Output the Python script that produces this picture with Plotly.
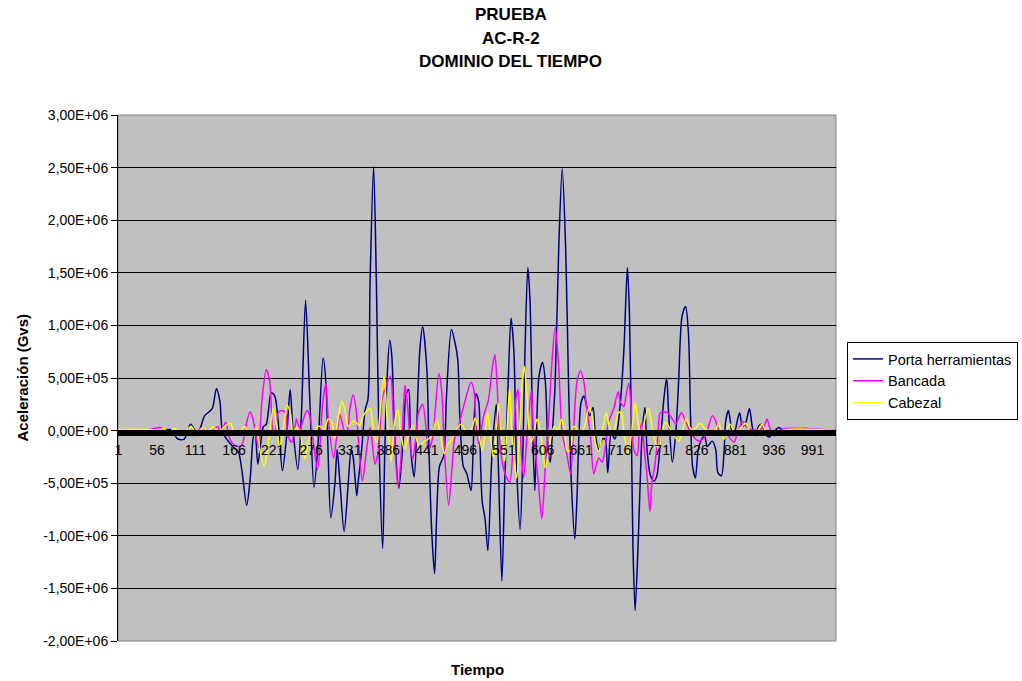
import plotly.graph_objects as go

SCALE = 1e6  # values below are in millions

porta_x = [1, 30, 60, 75, 86, 95, 104, 114, 124, 134, 136, 141, 146, 150, 164, 172, 177, 184, 189, 193, 196, 200, 208, 212, 219, 224, 229, 235, 241, 246, 250, 257, 262, 268, 274, 280, 286, 293, 297, 300, 304, 310, 313, 317, 323, 329, 333, 336, 341, 343, 348, 353, 357, 360, 365, 369, 373, 378, 381, 384, 388, 391, 395, 401, 408, 411, 415, 418, 423, 427, 431, 435, 441, 444, 448, 452, 455, 459, 465, 469, 476, 481, 485, 488, 493, 498, 504, 507, 511, 515, 517, 520, 524, 528, 533, 536, 540, 543, 548, 552, 557, 561, 565, 569, 574, 578, 581, 585, 588, 592, 595, 598, 601, 606, 610, 614, 617, 620, 624, 629, 634, 639, 643, 647, 652, 655, 658, 661, 665, 669, 673, 678, 681, 686, 691, 695, 699, 704, 709, 712, 717, 722, 727, 730, 733, 735, 738, 742, 746, 748, 752, 755, 760, 765, 769, 774, 779, 783, 786, 791, 796, 800, 805, 810, 814, 817, 820, 824, 828, 833, 837, 841, 848, 853, 856, 861, 865, 867, 871, 874, 877, 881, 887, 891, 896, 901, 905, 909, 914, 918, 922, 926, 930, 936, 943, 950, 981, 995, 1024]
porta_v = [0.0, 0.0, -0.01, 0.01, -0.08, -0.08, 0.06, -0.03, 0.14, 0.20, 0.23, 0.40, 0.27, -0.02, -0.15, -0.20, -0.37, -0.71, -0.46, -0.08, 0.01, -0.32, 0.04, 0.06, 0.36, 0.33, 0.08, -0.38, -0.05, 0.39, 0.01, -0.37, 0.14, 1.24, 0.30, -0.54, -0.11, 0.69, 0.46, -0.18, -0.83, -0.49, -0.18, -0.49, -0.96, -0.49, -0.18, -0.26, -0.62, -0.49, -0.18, 0.20, 0.30, 1.41, 2.51, 1.41, -0.18, -1.12, -0.18, 0.46, 0.86, 0.71, -0.02, -0.55, -0.02, 0.33, 0.39, -0.18, -0.44, 0.14, 0.77, 0.99, 0.58, -0.18, -0.97, -1.36, -0.81, -0.34, -0.24, 0.33, 0.96, 0.84, 0.68, 0.14, -0.34, -0.41, -0.57, -0.18, 0.35, 0.27, -0.18, -0.68, -0.84, -1.14, -0.34, -0.02, 0.25, -0.34, -1.43, -0.49, 0.46, 1.07, 0.77, -0.34, -0.94, -0.18, 0.77, 1.55, 1.25, -0.02, -0.57, 0.14, 0.52, 0.65, 0.46, -0.18, -0.30, -0.02, 0.46, 1.72, 2.49, 1.72, 0.46, -0.49, -1.03, -0.65, -0.02, 0.27, 0.33, 0.23, 0.14, 0.22, -0.02, -0.18, -0.08, -0.08, -0.40, -0.02, -0.08, -0.02, 0.27, 0.77, 1.55, 1.09, -0.18, -1.13, -1.71, -1.13, -0.34, -0.02, 0.22, -0.18, -0.43, -0.48, -0.43, -0.11, 0.30, 0.50, 0.14, -0.30, -0.02, 0.46, 1.09, 1.18, 0.93, 0.14, -0.34, -0.45, -0.18, -0.08, -0.05, -0.15, -0.10, -0.18, -0.40, -0.43, -0.18, 0.08, 0.19, 0.08, -0.05, 0.01, 0.17, 0.04, 0.08, 0.21, 0.04, -0.05, 0.04, 0.06, 0.0, -0.05, -0.06, -0.01, 0.03, 0.0, 0.02, 0.0, 0.0]

bancada_x = [1, 40, 60, 81, 96, 108, 120, 131, 143, 147, 154, 160, 165, 172, 177, 184, 189, 193, 198, 201, 206, 212, 217, 222, 225, 229, 234, 239, 243, 248, 252, 255, 260, 265, 270, 274, 279, 285, 289, 292, 297, 300, 308, 312, 317, 320, 324, 328, 331, 336, 340, 344, 349, 355, 360, 363, 367, 372, 377, 381, 389, 393, 397, 400, 404, 408, 410, 414, 417, 421, 425, 429, 435, 439, 443, 449, 453, 458, 462, 466, 472, 477, 481, 486, 495, 504, 508, 511, 515, 522, 529, 534, 538, 541, 546, 552, 559, 565, 568, 571, 574, 579, 584, 587, 590, 593, 600, 605, 610, 615, 619, 624, 629, 634, 641, 646, 650, 655, 660, 665, 669, 674, 679, 686, 691, 695, 700, 707, 714, 717, 722, 725, 729, 733, 736, 741, 744, 748, 751, 755, 759, 762, 766, 771, 774, 784, 793, 796, 804, 811, 819, 829, 838, 848, 853, 857, 867, 879, 884, 891, 896, 903, 915, 922, 926, 931, 937, 943, 953, 981, 1024]
bancada_v = [0.0, 0.0, 0.03, -0.04, 0.0, -0.05, 0.03, -0.02, 0.04, -0.04, 0.08, -0.08, -0.13, -0.15, -0.14, 0.08, 0.18, 0.11, -0.08, -0.16, 0.30, 0.58, 0.46, -0.02, 0.0, 0.17, 0.19, 0.17, -0.05, -0.11, -0.02, 0.11, 0.01, 0.11, 0.19, 0.14, -0.11, -0.37, -0.11, 0.23, 0.45, 0.14, -0.26, -0.08, 0.15, 0.08, -0.01, 0.01, 0.20, 0.34, 0.20, -0.15, -0.48, -0.18, 0.03, -0.11, -0.32, -0.18, 0.30, 0.39, 0.52, 0.14, -0.34, -0.53, -0.27, 0.27, 0.43, 0.20, -0.11, -0.27, -0.08, 0.17, 0.25, 0.08, -0.18, -0.08, 0.20, 0.54, 0.39, -0.18, -0.71, -0.34, -0.05, 0.04, 0.27, 0.46, 0.39, 0.08, -0.12, 0.14, 0.30, 0.58, 0.72, 0.46, -0.18, -0.40, -0.49, -0.02, 0.30, 0.39, -0.02, -0.45, -0.02, 0.20, 0.38, -0.02, -0.49, -0.84, -0.34, 0.14, 0.61, 0.98, 0.61, -0.02, -0.24, -0.41, -0.02, 0.46, 0.57, 0.46, 0.20, -0.02, -0.41, -0.26, -0.30, -0.18, 0.08, 0.20, 0.37, 0.27, 0.23, 0.33, 0.45, 0.14, -0.18, -0.24, -0.02, 0.07, -0.18, -0.43, -0.77, -0.49, -0.34, -0.02, 0.17, 0.17, 0.09, 0.06, 0.17, 0.07, -0.04, -0.10, -0.05, 0.14, 0.09, 0.01, -0.02, -0.11, -0.02, 0.09, 0.04, 0.01, 0.01, 0.04, 0.11, 0.01, -0.05, 0.0, 0.02, 0.02, 0.0]

cabezal_x = [1, 48, 58, 65, 72, 81, 89, 96, 105, 112, 122, 129, 136, 143, 153, 161, 167, 172, 177, 181, 186, 192, 198, 203, 209, 215, 222, 227, 231, 236, 242, 247, 250, 255, 260, 262, 267, 272, 276, 280, 284, 289, 295, 300, 305, 310, 315, 320, 324, 329, 336, 341, 345, 350, 360, 365, 370, 373, 380, 384, 390, 395, 400, 403, 409, 415, 421, 425, 430, 436, 443, 448, 455, 460, 466, 471, 474, 481, 489, 495, 500, 506, 510, 515, 520, 524, 528, 531, 536, 540, 543, 547, 552, 555, 559, 562, 569, 573, 577, 580, 584, 589, 592, 598, 603, 610, 615, 619, 623, 628, 633, 638, 641, 646, 650, 655, 660, 666, 672, 677, 681, 686, 691, 697, 701, 706, 710, 714, 718, 722, 728, 733, 738, 742, 747, 752, 757, 762, 767, 772, 776, 781, 786, 791, 800, 805, 811, 816, 820, 825, 830, 836, 842, 853, 857, 861, 865, 869, 874, 880, 886, 896, 901, 907, 914, 919, 924, 931, 941, 953, 1024]
cabezal_v = [0.01, 0.01, -0.01, 0.02, -0.02, 0.02, -0.02, -0.01, 0.04, -0.03, 0.03, -0.01, 0.04, -0.02, 0.04, 0.07, -0.04, -0.03, 0.01, 0.04, -0.02, -0.05, 0.04, -0.19, -0.34, -0.11, 0.21, 0.04, -0.16, 0.01, 0.24, 0.14, -0.02, 0.03, 0.0, -0.08, -0.27, -0.11, -0.03, -0.05, 0.03, 0.04, 0.01, 0.11, 0.08, -0.07, 0.14, 0.28, 0.20, 0.04, 0.09, 0.07, 0.05, 0.14, 0.21, -0.02, -0.11, 0.08, 0.52, 0.14, -0.29, 0.08, 0.20, 0.01, -0.18, -0.05, 0.05, -0.05, -0.15, -0.11, -0.08, -0.05, 0.11, -0.02, -0.22, -0.13, -0.11, -0.02, 0.06, 0.01, -0.05, 0.04, 0.12, -0.02, -0.19, -0.02, 0.17, -0.02, -0.26, -0.02, 0.26, -0.02, -0.29, -0.02, 0.40, -0.02, -0.45, -0.02, 0.46, 0.61, 0.30, -0.11, -0.08, 0.11, -0.02, -0.35, -0.18, -0.02, 0.04, 0.0, 0.11, -0.05, -0.19, -0.19, 0.04, 0.02, -0.02, 0.04, 0.22, 0.14, -0.11, -0.20, -0.02, 0.17, 0.04, -0.03, 0.04, 0.17, 0.17, -0.02, -0.22, -0.02, 0.26, 0.08, -0.05, 0.11, 0.21, 0.04, -0.11, -0.18, -0.02, 0.08, 0.04, -0.02, -0.10, -0.02, 0.12, 0.03, 0.0, 0.03, 0.07, 0.03, 0.0, 0.01, 0.08, -0.02, -0.08, 0.01, 0.06, -0.02, 0.01, 0.07, 0.0, -0.05, 0.01, 0.06, 0.0, -0.02, -0.03, 0.01, 0.0]

series_names = ["Porta herramientas", "Bancada", "Cabezal"]
series_colors = ["#000080", "#FF00FF", "#FFFF00"]

x_tick_vals = [1, 56, 111, 166, 221, 276, 331, 386, 441, 496, 551, 606, 661, 716, 771, 826, 881, 936, 991]
x_tick_text = [str(v) for v in x_tick_vals]
y_tick_vals = [-2.0e6, -1.5e6, -1.0e6, -0.5e6, 0.0, 0.5e6, 1.0e6, 1.5e6, 2.0e6, 2.5e6, 3.0e6]
y_tick_text = ["-2,00E+06", "-1,50E+06", "-1,00E+06", "-5,00E+05", "0,00E+00",
               "5,00E+05", "1,00E+06", "1,50E+06", "2,00E+06", "2,50E+06", "3,00E+06"]
title_lines = ["PRUEBA", "AC-R-2", "DOMINIO DEL TIEMPO"]

Y_RANGE = [-2.0e6, 3.0e6]
X_RANGE = [0.5, 1024.5]

FONT = "Liberation Sans, Arial, sans-serif"

fig = go.Figure()
data = [(porta_x, porta_v), (bancada_x, bancada_v), (cabezal_x, cabezal_v)]
for name, color, (xs, vs) in zip(series_names, series_colors, data):
    fig.add_trace(go.Scatter(
        x=xs, y=[v * SCALE for v in vs], mode="lines", name=name,
        line=dict(color=color, width=1.5, shape="spline", smoothing=0.8),
    ))

W, H = 1022, 681
ML, MR, MT, MB = 118, 186, 115, 40
PW, PH = W - ML - MR, H - MT - MB

def px_x(p):
    return (p - ML) / PW

def px_y(p):
    return (H - MB - p) / PH

zero_pos = (0 - Y_RANGE[0]) / (Y_RANGE[1] - Y_RANGE[0])

fig.update_layout(
    width=W, height=H,
    margin=dict(l=ML, r=MR, t=MT, b=MB, pad=0, autoexpand=False),
    paper_bgcolor="white", plot_bgcolor="#C0C0C0",
    font=dict(family=FONT, size=14, color="black"),
    showlegend=True,
    legend=dict(xref="container", yref="container",
                x=847 / W, y=1 - 342 / H, xanchor="left", yanchor="top",
                bgcolor="white", bordercolor="black", borderwidth=1,
                font=dict(family=FONT, size=14.5, color="black"),
                tracegroupgap=0, itemwidth=30),
)

fig.update_xaxes(
    range=X_RANGE, anchor="free", position=zero_pos,
    showline=True, linecolor="black", linewidth=2,
    ticks="outside", ticklen=4, tickwidth=1, tickcolor="black",
    tickmode="array", tickvals=x_tick_vals, ticktext=x_tick_text,
    tickfont=dict(family=FONT, size=14, color="black"),
    ticklabelstandoff=3,
    minor=dict(ticks="outside", tickmode="linear", tick0=1, dtick=1, ticklen=4,
               tickcolor="black", tickwidth=1, showgrid=False),
    showgrid=False, zeroline=False, layer="above traces", automargin=False,
)
fig.update_yaxes(
    range=Y_RANGE, tickmode="array", tickvals=y_tick_vals, ticktext=y_tick_text,
    showgrid=True, gridcolor="black", gridwidth=1, zeroline=False,
    showline=True, linecolor="black", linewidth=1,
    ticks="outside", ticklen=6, tickcolor="black",
    tickfont=dict(family=FONT, size=14, color="black"), automargin=False,
)

fig.add_shape(type="rect", xref="paper", yref="paper", x0=0, x1=1, y0=0, y1=1,
              line=dict(color="#808080", width=1), layer="below")

title_y = [15, 38, 62]
for txt, py in zip(title_lines, title_y):
    fig.add_annotation(text="<b>%s</b>" % txt, xref="paper", yref="paper",
                       x=px_x(511), y=px_y(py), xanchor="center", yanchor="middle",
                       showarrow=False, font=dict(family=FONT, size=17, color="black"))

fig.add_annotation(text="<b>Aceleración (Gvs)</b>", xref="paper", yref="paper",
                   x=px_x(21.5), y=px_y(378), xanchor="center", yanchor="middle",
                   textangle=-90, showarrow=False,
                   font=dict(family=FONT, size=15, color="black"))
fig.add_annotation(text="<b>Tiempo</b>", xref="paper", yref="paper",
                   x=px_x(477), y=px_y(669), xanchor="center", yanchor="middle",
                   showarrow=False, font=dict(family=FONT, size=15, color="black"))

fig.write_html("out.html",
               config={"displayModeBar": False},
               post_script="document.body.style.margin='0';document.body.style.padding='0';")
